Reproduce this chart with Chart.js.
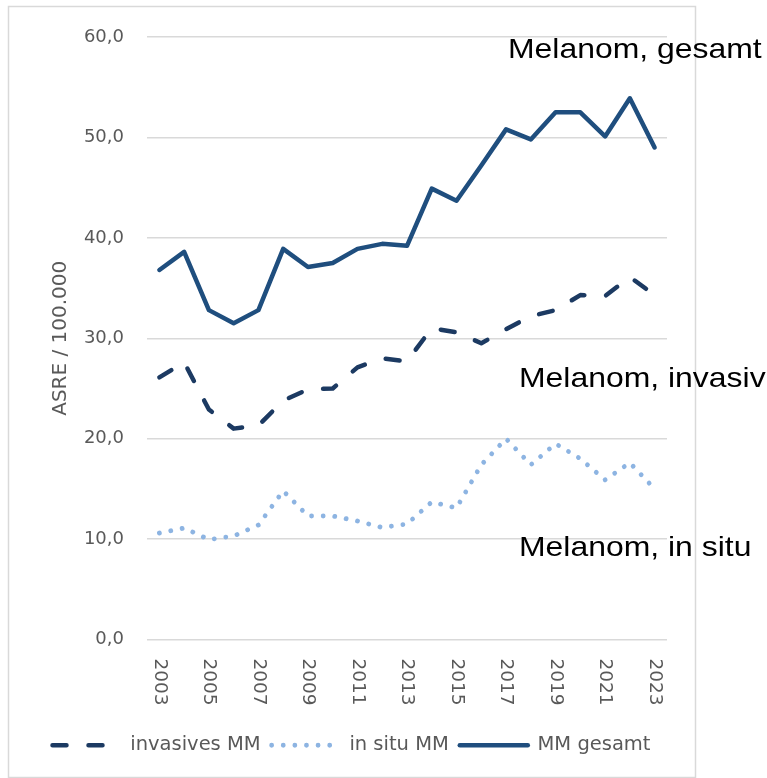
<!DOCTYPE html>
<html>
<head>
<meta charset="utf-8">
<script src="https://cdn.jsdelivr.net/npm/chart.js@4/dist/chart.umd.min.js"></script>
<style>
  html, body { margin: 0; padding: 0; background: #fff; }
  canvas { display: block; }
</style>
</head>
<body>
<canvas id="c" width="767" height="778"></canvas>
<script>
// ---- data ----
const categories = ['2003','2004','2005','2006','2007','2008','2009','2010','2011','2012','2013',
                    '2014','2015','2016','2017','2018','2019','2020','2021','2022','2023'];
const invasiveMM = [26.1, 27.6, 22.9, 21.0, 21.3, 23.8, 24.9, 25.0, 27.1, 28.0, 27.7,
                    31.0, 30.6, 29.5, 30.9, 32.2, 32.8, 34.3, 34.2, 36.1, 34.3];
const inSituMM   = [10.6, 11.1, 9.95, 10.3, 11.4, 14.8, 12.3, 12.3, 11.8, 11.15, 11.5,
                    13.7, 13.1, 17.4, 20.0, 17.4, 19.5, 18.0, 15.9, 17.6, 15.0];
const gesamtMM   = [36.8, 38.6, 32.8, 31.5, 32.8, 38.9, 37.1, 37.5, 38.9, 39.4, 39.2,
                    44.9, 43.7, 47.2, 50.8, 49.8, 52.5, 52.5, 50.1, 53.9, 49.0];
const seriesNames = ['invasives MM', 'in situ MM', 'MM gesamt'];
const yTickValues = [0, 10, 20, 30, 40, 50, 60];
const xTickLabels = ['2003','2005','2007','2009','2011','2013','2015','2017','2019','2021','2023'];
const yAxisTitle = 'ASRE / 100.000';
const annotationTexts = ['Melanom, gesamt', 'Melanom, invasiv', 'Melanom, in situ'];

// ---- plugin: frame, rotated year labels, annotations ----
const extras = {
  id: 'extras',
  beforeDraw(chart, args, opts) {
    const ctx = chart.ctx;
    ctx.save();
    ctx.fillStyle = '#ffffff';
    ctx.fillRect(0, 0, chart.width, chart.height);
    ctx.strokeStyle = '#D9D9D9';
    ctx.lineWidth = 1.5;
    ctx.strokeRect(8.5, 6.5, 687, 771);
    ctx.restore();
  },
  afterDraw(chart, args, opts) {
    const ctx = chart.ctx;
    const xs = chart.scales.x;
    ctx.save();
    ctx.fillStyle = '#595959';
    ctx.font = '18.5px "DejaVu Sans"';
    ctx.textAlign = 'left';
    ctx.textBaseline = 'middle';
    xTickLabels.forEach(lab => {
      const px = xs.getPixelForValue(categories.indexOf(lab));
      ctx.save();
      ctx.translate(px, chart.chartArea.bottom + 19);
      ctx.rotate(Math.PI / 2);
      ctx.fillText(lab, 0, 0);
      ctx.restore();
    });
    ctx.fillStyle = '#000000';
    ctx.font = '28.5px "Liberation Sans"';
    ctx.textBaseline = 'alphabetic';
    annotationTexts.forEach((t, i) => {
      const p = opts.positions[i];
      ctx.save();
      ctx.translate(p.x, p.y);
      ctx.scale(1.12, 1);
      ctx.fillText(t, 0, 0);
      ctx.restore();
    });
    ctx.restore();
  }
};

new Chart(document.getElementById('c'), {
  type: 'line',
  data: {
    labels: categories,
    datasets: [
      {
        label: seriesNames[0], data: invasiveMM,
        borderColor: '#1C3A62', backgroundColor: '#1C3A62',
        borderWidth: 4.5, borderDash: [14, 22], borderCapStyle: 'round', borderJoinStyle: 'round',
        pointRadius: 0, tension: 0, fill: false
      },
      {
        label: seriesNames[1], data: inSituMM,
        borderColor: '#8DB4E2', backgroundColor: '#8DB4E2',
        borderWidth: 4.8, borderDash: [0.01, 11.6], borderCapStyle: 'round', borderJoinStyle: 'round',
        pointRadius: 0, tension: 0, fill: false
      },
      {
        label: seriesNames[2], data: gesamtMM,
        borderColor: '#1F4E7E', backgroundColor: '#1F4E7E',
        borderWidth: 4.5, borderCapStyle: 'round', borderJoinStyle: 'round',
        pointRadius: 0, tension: 0, fill: false
      }
    ]
  },
  options: {
    responsive: false,
    devicePixelRatio: 1,
    animation: false,
    layout: { padding: { left: 8, right: 72, top: 37, bottom: 13 } },
    scales: {
      x: {
        offset: true,
        grid: { display: false },
        border: { display: false },
        ticks: { display: false },
        afterFit: s => { s.height = 85; }
      },
      y: {
        min: 0, max: 60,
        afterBuildTicks: s => { s.ticks = yTickValues.map(v => ({ value: v })); },
        grid: { color: '#D9D9D9', lineWidth: 1.5, drawTicks: false },
        border: { display: false },
        ticks: {
          color: '#595959',
          font: { family: 'DejaVu Sans', size: 18 },
          padding: 23,
          callback: v => v.toFixed(1).replace('.', ',')
        },
        title: {
          display: true, text: yAxisTitle, color: '#595959',
          font: { family: 'DejaVu Sans', size: 20 },
          padding: { top: 41, bottom: 0 }
        },
        afterFit: s => { s.width = 139; }
      },
      yRight: {
        position: 'right',
        min: 0, max: 60,
        grid: { display: false, drawTicks: false },
        border: { display: false },
        ticks: { display: false },
        afterFit: s => { s.width = 28; }
      }
    },
    plugins: {
      legend: {
        position: 'bottom',
        labels: {
          usePointStyle: true,
          pointStyle: 'line',
          pointStyleWidth: 68,
          color: '#595959',
          font: { family: 'DejaVu Sans', size: 19.5 },
          padding: 11,
          generateLabels: chart => chart.data.datasets.map((ds, i) => ({
            text: ds.label,
            fillStyle: ds.borderColor,
            strokeStyle: ds.borderColor,
            lineWidth: ds.borderWidth,
            lineDash: ds.borderDash || [],
            lineDashOffset: 0,
            lineCap: 'round',
            lineJoin: 'round',
            pointStyle: 'line',
            fontColor: '#595959',
            hidden: false,
            datasetIndex: i
          }))
        }
      },
      tooltip: { enabled: false },
      extras: {
        positions: [ { x: 508, y: 58 }, { x: 519, y: 387 }, { x: 519, y: 556 } ]
      }
    }
  },
  plugins: [extras]
});
</script>
</body>
</html>
